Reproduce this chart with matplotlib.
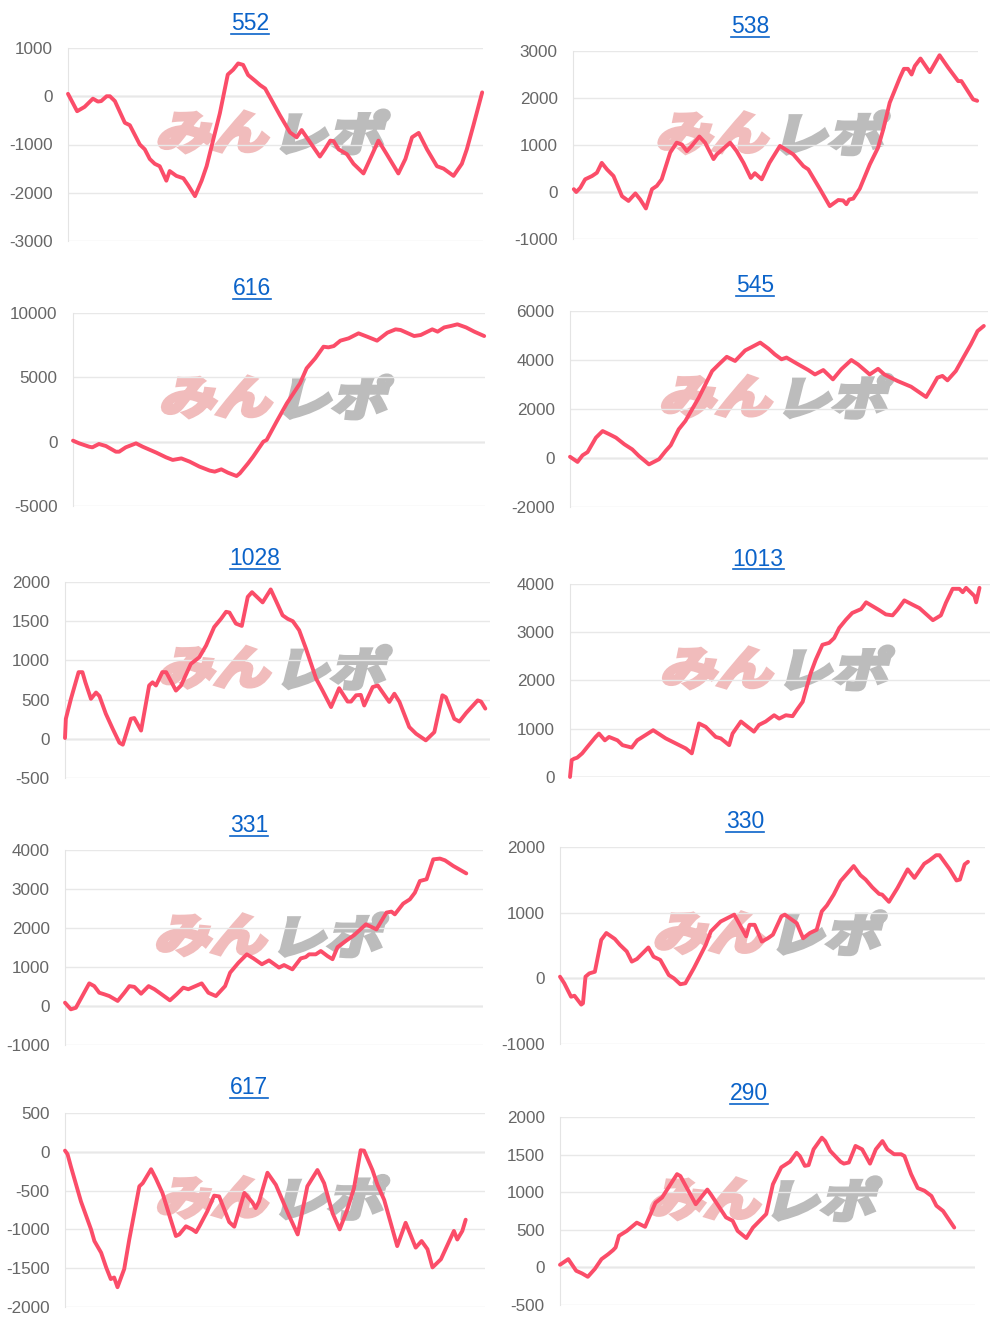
import numpy as np
import matplotlib
matplotlib.use('Agg')
import matplotlib.pyplot as plt
from matplotlib.textpath import TextPath
from matplotlib.patches import PathPatch
from matplotlib.font_manager import FontProperties
from matplotlib.transforms import Affine2D
from matplotlib.lines import Line2D

plt.rcParams['font.family'] = ['Liberation Sans', 'DejaVu Sans']
plt.rcParams['axes.unicode_minus'] = False

titles = ['552', '538', '616', '545', '1028', '1013', '331', '330', '617', '290']

# (progress %, balance)
s_552 = [(0, 50), (2.2, -310), (4.0, -220), (6.0, -50), (7.2, -110), (8.0, -100), (9.3, 0), (10.1, 0),
         (11.3, -100), (13.7, -550), (14.9, -600), (17.3, -1000), (18.5, -1100), (19.7, -1300), (20.9, -1400),
         (22.1, -1450), (23.7, -1750), (24.5, -1550), (26.1, -1650), (27.8, -1700), (29.0, -1850), (30.6, -2070),
         (32.2, -1750), (33.4, -1450), (35.0, -900), (36.6, -350), (38.5, 450), (39.8, 550), (41.0, 680),
         (42.2, 650), (43.4, 440), (45.1, 320), (46.3, 230), (47.5, 160), (49.5, -150), (51.1, -400),
         (53.5, -750), (55.1, -850), (56.3, -700), (57.5, -850), (60.7, -1250), (61.9, -1100), (63.2, -920),
         (64.0, -930), (65.2, -1100), (67.2, -1200), (68.8, -1400), (71.2, -1600), (72.8, -1300), (74.8, -920),
         (76.8, -1200), (79.6, -1600), (81.3, -1300), (82.9, -850), (84.5, -760), (86.5, -1100), (88.9, -1450),
         (90.5, -1500), (92.9, -1650), (94.9, -1400), (96.1, -1100), (97.7, -600), (99.8, 80)]
s_538 = [(0.2, 60), (0.8, 0), (1.8, 90), (3.0, 270), (4.7, 340), (5.9, 410), (6.7, 550), (7.1, 620), (8.4, 480),
         (10.0, 340), (12.1, -90), (13.7, -190), (15.4, -30), (16.6, -160), (18.0, -350), (19.5, 60), (20.7, 130),
         (21.9, 270), (24.0, 840), (25.6, 1050), (26.9, 1010), (28.1, 870), (29.3, 980), (31.2, 1180), (32.6, 1050),
         (34.7, 700), (35.5, 800), (38.8, 1050), (40.4, 870), (42.1, 620), (43.9, 300), (44.9, 400), (46.6, 270),
         (48.5, 620), (51.1, 980), (54.4, 800), (56.9, 550), (58.1, 480), (61.0, 60), (62.2, -120), (63.4, -300),
         (65.5, -170), (66.7, -180), (67.5, -260), (68.2, -160), (69.2, -140), (70.8, 70), (73.3, 590), (75.3, 940),
         (76.6, 1330), (78.2, 1900), (80.7, 2430), (81.7, 2620), (82.7, 2620), (83.6, 2500), (84.4, 2680),
         (85.8, 2840), (88.1, 2550), (90.5, 2910), (92.6, 2650), (95.1, 2360), (95.9, 2360), (98.8, 1970),
         (99.8, 1940)]
s_616 = [(0, 80), (1.5, -130), (3.9, -390), (4.7, -440), (6.3, -180), (8.0, -340), (10.4, -780), (11.2, -780),
         (12.8, -440), (15.3, -130), (16.9, -390), (20.2, -850), (22.6, -1220), (24.2, -1420), (26.3, -1300),
         (28.3, -1550), (30.7, -1940), (33.2, -2250), (34.4, -2330), (36.0, -2150), (37.6, -2410), (39.7, -2670),
         (40.5, -2460), (42.5, -1680), (43.7, -1170), (46.2, 0), (47.0, 130), (49.4, 1550), (51.9, 2980),
         (55.1, 4530), (56.7, 5700), (58.8, 6480), (60.8, 7380), (62.0, 7330), (63.3, 7430), (64.9, 7850),
         (66.9, 8030), (69.3, 8420), (71.4, 8160), (73.8, 7850), (76.3, 8470), (78.3, 8730), (79.5, 8680),
         (82.8, 8210), (84.4, 8290), (87.2, 8730), (88.5, 8550), (90.1, 8880), (91.7, 8990), (93.3, 9120),
         (95.4, 8880), (97.4, 8550), (99.8, 8210)]
s_545 = [(0, 50), (1.8, -160), (3.0, 110), (4.2, 240), (6.2, 830), (7.8, 1100), (9.4, 970), (11.0, 830),
         (13.0, 560), (14.9, 350), (16.5, 80), (18.9, -260), (21.3, -50), (22.9, 290), (24.1, 520), (26.0, 1170),
         (27.6, 1510), (30.8, 2460), (34.0, 3550), (35.6, 3820), (37.5, 4130), (39.5, 3960), (41.9, 4390),
         (43.5, 4530), (45.5, 4710), (47.5, 4460), (49.0, 4230), (50.6, 4030), (51.8, 4100), (54.2, 3860),
         (57.0, 3590), (58.6, 3410), (60.6, 3590), (62.9, 3210), (64.9, 3620), (67.3, 4000), (68.9, 3820),
         (71.7, 3410), (73.7, 3640), (75.2, 3410), (78.4, 3140), (81.6, 2910), (85.2, 2490), (86.3, 2800),
         (87.9, 3280), (89.1, 3350), (90.3, 3170), (92.3, 3550), (94.3, 4160), (95.9, 4640), (97.5, 5180),
         (99.0, 5390)]
s_1028 = [(0, 10), (0.2, 255), (1.4, 510), (3.2, 850), (4.1, 850), (4.8, 720), (6.1, 510), (7.3, 590), (8.1, 545),
          (9.6, 320), (11.2, 130), (12.8, -50), (13.6, -75), (15.5, 255), (16.3, 265), (17.9, 105), (19.8, 680),
          (20.6, 720), (21.4, 680), (22.9, 850), (23.8, 850), (26.1, 615), (27.3, 680), (29.6, 955), (31.6, 1040),
          (33.2, 1190), (35.1, 1425), (36.7, 1530), (37.9, 1620), (38.7, 1610), (40.2, 1470), (41.6, 1440),
          (43.0, 1810), (44.0, 1870), (46.5, 1740), (48.4, 1905), (49.6, 1765), (51.2, 1575), (52.4, 1530),
          (53.6, 1500), (55.1, 1385), (56.7, 1150), (59.1, 765), (60.6, 615), (62.6, 405), (64.5, 645), (66.5, 475),
          (67.3, 475), (68.5, 555), (69.6, 560), (70.4, 425), (72.4, 660), (73.6, 680), (76.3, 470), (77.5, 575),
          (78.7, 470), (81.0, 150), (82.6, 65), (84.9, -20), (86.9, 85), (88.8, 555), (89.6, 530), (91.6, 255),
          (92.8, 220), (94.4, 330), (97.1, 490), (97.9, 475), (98.9, 385)]
s_1013 = [(0, 0), (0.4, 350), (1.0, 380), (1.7, 400), (2.9, 490), (4.1, 620), (6.1, 830), (6.9, 900), (8.3, 760),
          (9.3, 830), (11.3, 760), (12.5, 660), (14.7, 610), (16.0, 760), (18.0, 870), (19.8, 970), (22.8, 800),
          (26.0, 660), (27.6, 590), (29.0, 490), (30.7, 1110), (32.3, 1040), (34.7, 830), (35.9, 800), (37.9, 660),
          (38.7, 900), (40.7, 1150), (42.3, 1040), (43.8, 940), (45.0, 1080), (46.6, 1150), (48.6, 1280),
          (49.8, 1210), (51.4, 1280), (53.0, 1260), (54.0, 1390), (55.4, 1560), (57.3, 2150), (58.5, 2430),
          (60.1, 2740), (61.7, 2780), (62.9, 2880), (64.1, 3090), (65.7, 3260), (67.2, 3400), (69.3, 3480),
          (70.5, 3620), (73.6, 3460), (75.2, 3370), (76.8, 3350), (78.0, 3470), (79.6, 3660), (81.6, 3570),
          (83.2, 3500), (86.4, 3250), (88.3, 3350), (89.5, 3610), (91.1, 3900), (92.7, 3900), (93.5, 3830),
          (94.3, 3920), (96.3, 3750), (96.7, 3620), (97.5, 3920)]
s_331 = [(0, 85), (1.4, -85), (2.6, -45), (5.8, 580), (7.0, 510), (8.2, 340), (9.4, 300), (10.6, 255), (12.6, 130),
         (14.2, 340), (15.4, 510), (16.6, 490), (18.2, 315), (20.0, 510), (21.4, 430), (23.1, 300), (25.1, 145),
         (26.7, 300), (28.3, 470), (29.5, 430), (32.7, 580), (34.3, 340), (36.1, 255), (38.3, 510), (39.5, 855),
         (41.5, 1110), (43.5, 1325), (45.1, 1220), (47.1, 1070), (48.8, 1170), (51.2, 985), (52.4, 1050),
         (54.4, 940), (56.4, 1220), (57.6, 1255), (58.4, 1325), (60.0, 1325), (61.2, 1410), (62.8, 1280),
         (64.0, 1200), (65.2, 1510), (67.2, 1670), (69.2, 1820), (72.0, 2095), (74.5, 1965), (76.9, 2395),
         (78.1, 2420), (78.9, 2350), (80.9, 2625), (82.5, 2735), (83.7, 2905), (84.9, 3205), (86.5, 3250),
         (88.1, 3760), (89.7, 3780), (90.9, 3735), (92.9, 3590), (96.0, 3400)]
s_330 = [(0, 25), (1.0, -75), (2.6, -280), (3.4, -265), (5.0, -400), (5.4, -380), (6.0, 25), (6.9, 75), (8.2, 100),
         (9.7, 585), (10.9, 690), (12.9, 600), (14.1, 510), (15.7, 410), (16.9, 255), (18.1, 295), (20.8, 470),
         (22.0, 330), (23.6, 280), (25.6, 50), (26.8, 0), (28.3, -90), (29.5, -75), (31.5, 155), (34.3, 510),
         (35.5, 715), (37.8, 865), (41.0, 970), (43.8, 640), (44.6, 815), (45.8, 815), (47.5, 560), (48.9, 610),
         (50.1, 665), (52.1, 945), (52.9, 970), (55.7, 840), (57.2, 610), (58.8, 690), (60.4, 740), (61.6, 1020),
         (62.8, 1110), (64.4, 1275), (66.0, 1480), (69.1, 1710), (70.7, 1570), (71.9, 1505), (73.5, 1385),
         (75.1, 1285), (75.8, 1275), (77.4, 1165), (79.4, 1375), (81.8, 1660), (83.4, 1530), (85.7, 1745),
         (86.9, 1795), (88.5, 1875), (89.3, 1875), (91.7, 1660), (93.3, 1490), (94.1, 1505), (95.2, 1735),
         (96.0, 1775)]
s_617 = [(0, 15), (0.6, -30), (1.4, -190), (3.8, -640), (6.2, -1000), (7.0, -1150), (8.6, -1300), (9.8, -1490),
         (10.9, -1640), (11.7, -1620), (12.5, -1745), (14.1, -1510), (15.3, -1130), (17.7, -445), (18.5, -405),
         (20.5, -225), (21.6, -340), (23.2, -530), (24.8, -810), (26.4, -1085), (27.2, -1065), (28.8, -960),
         (30.3, -1000), (31.2, -1035), (32.0, -960), (33.9, -765), (35.5, -565), (36.7, -575), (39.1, -905),
         (40.3, -965), (42.7, -530), (44.6, -650), (45.4, -725), (46.2, -640), (48.2, -270), (50.2, -425),
         (53.4, -830), (55.4, -1065), (57.7, -445), (60.1, -235), (61.7, -405), (63.7, -790), (65.4, -1000),
         (67.2, -745), (68.8, -470), (70.4, 20), (71.2, 15), (73.2, -235), (74.4, -425), (76.0, -620),
         (79.1, -1215), (81.1, -915), (83.5, -1235), (84.9, -1150), (86.3, -1255), (87.5, -1490), (89.5, -1385),
         (92.6, -1020), (93.4, -1130), (94.6, -1020), (95.4, -875)]
s_290 = [(0, 35), (2.0, 110), (3.9, -45), (5.3, -80), (6.7, -125), (8.4, -20), (10.0, 110), (11.6, 175),
         (12.8, 230), (13.4, 265), (14.2, 420), (16.1, 485), (18.5, 595), (20.5, 540), (23.0, 860), (24.6, 930),
         (28.2, 1240), (29.0, 1215), (32.7, 840), (35.5, 1035), (36.3, 975), (40.0, 665), (41.6, 620), (42.8, 485),
         (44.9, 390), (46.5, 530), (49.7, 710), (51.3, 1105), (53.3, 1330), (55.4, 1405), (57.0, 1525),
         (57.8, 1480), (59.0, 1350), (59.9, 1360), (61.1, 1570), (63.1, 1725), (63.9, 1680), (65.1, 1550),
         (67.6, 1405), (68.4, 1380), (69.6, 1395), (71.2, 1615), (72.8, 1570), (74.7, 1380), (76.1, 1570),
         (77.7, 1680), (78.9, 1570), (80.5, 1505), (82.2, 1505), (83.0, 1480), (84.6, 1240), (86.2, 1055),
         (87.8, 1020), (89.5, 950), (90.7, 820), (92.3, 750), (95.0, 530)]

series = [s_552, s_538, s_616, s_545, s_1028, s_1013, s_331, s_330, s_617, s_290]

yticks = [
    [-3000, -2000, -1000, 0, 1000],
    [-1000, 0, 1000, 2000, 3000],
    [-5000, 0, 5000, 10000],
    [-2000, 0, 2000, 4000, 6000],
    [-500, 0, 500, 1000, 1500, 2000],
    [0, 1000, 2000, 3000, 4000],
    [-1000, 0, 1000, 2000, 3000, 4000],
    [-1000, 0, 1000, 2000],
    [-2000, -1500, -1000, -500, 0, 500],
    [-500, 0, 500, 1000, 1500, 2000],
]

# pixel layout: left, right, top, bottom of plot area, title centre x, title baseline y
layout = [
    (68, 483, 48, 241, 250, 30),
    (573, 978, 51, 239, 750, 33),
    (73, 485, 313, 506, 252, 295),
    (570, 988, 311, 507, 755, 292),
    (65, 490, 582, 778, 255, 565),
    (570, 990, 584, 777, 758, 566),
    (65, 483, 850, 1045, 249, 832),
    (560, 985, 847, 1044, 745, 828),
    (65, 485, 1113, 1307, 249, 1094),
    (560, 975, 1117, 1305, 749, 1100),
]

W, H = 1000, 1328
LINE = '#fb4d69'
TITLE = '#0b63c9'

fig = plt.figure(figsize=(W / 100, H / 100), dpi=100)
fp = FontProperties(family='Noto Sans CJK JP', weight='bold')


def watermark(ax):
    cx, cy = ax.transAxes.transform((0.5, 0.565))
    for txt, col, dx in [('みん', '#f1bcbc', -60), ('レポ', '#bcbcbc', 60)]:
        tp = TextPath((0, 0), txt, size=50, prop=fp)
        bb = tp.get_extents()
        tr = (Affine2D().translate(-(bb.x0 + bb.x1) / 2, -(bb.y0 + bb.y1) / 2)
              .scale(1.12, 0.92).skew_deg(14, 0).translate(cx + dx, cy))
        ax.add_patch(PathPatch(tp, transform=tr, facecolor=col, edgecolor=col, lw=3.2,
                               joinstyle='miter', zorder=1))


title_texts = []
for i in range(10):
    l, r, t, b, tx, ty = layout[i]
    ax = fig.add_axes([l / W, 1 - b / H, (r - l) / W, (b - t) / H])
    xs, ys = zip(*series[i])
    watermark(ax)
    ax.plot(xs, ys, color=LINE, lw=2.8, solid_joinstyle='round', solid_capstyle='round',
            zorder=3, clip_on=False)
    ax.set_xlim(0, 100)
    ax.set_ylim(yticks[i][0], yticks[i][-1])
    ax.set_yticks(yticks[i])
    ax.set_xticks([])
    ax.grid(axis='y', color='#e8e8e8', lw=1, zorder=0)
    ax.axhline(0, color='#c9c9c9', lw=1, zorder=0.5)
    for side in ['top', 'right', 'bottom']:
        ax.spines[side].set_visible(False)
    ax.spines['left'].set_color('#e4e4e4')
    ax.tick_params(axis='y', length=0, pad=11, labelsize=12.3, labelcolor='#666666')
    ax.set_facecolor('none')
    tt = fig.text(tx / W, 1 - ty / H, titles[i], ha='center', va='baseline',
                  fontsize=16.5, color=TITLE)
    title_texts.append(tt)

fig.canvas.draw()
rend = fig.canvas.get_renderer()
for tt in title_texts:
    bb = tt.get_window_extent(rend)
    _, by = tt.get_transform().transform(tt.get_position())
    y = (by - 3.5) / H
    fig.add_artist(Line2D([bb.x0 / W, bb.x1 / W], [y, y], color=TITLE, lw=1.2))

fig.savefig('out.png', dpi=100)
